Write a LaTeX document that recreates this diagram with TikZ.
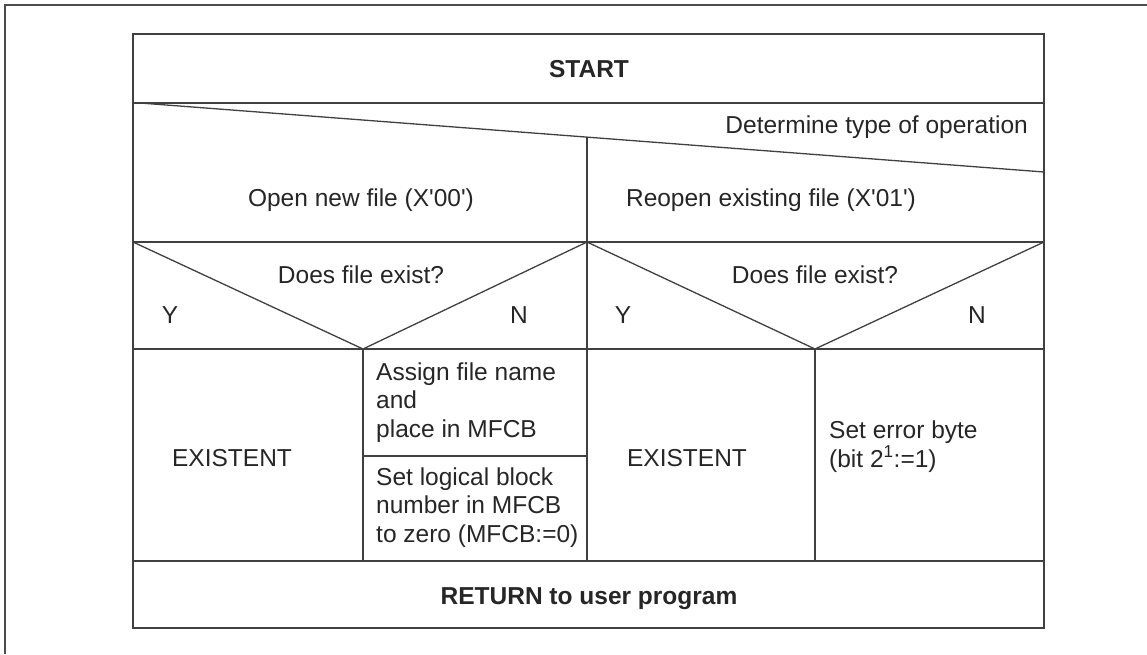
\documentclass[tikz,border=0pt]{standalone}
\usepackage{fontspec}
\setmainfont{Liberation Sans}
\begin{document}
\begin{tikzpicture}[x=1pt,y=-1pt,
  every node/.style={font=\fontsize{24.5}{28.5}\selectfont, inner sep=0pt, text=black!85},
  frame/.style={line width=1.6pt, draw=black!75},
  outerframe/.style={line width=2pt, draw=black!70},
  thin/.style={line width=1.3pt, draw=black!75},
  lbl/.style={anchor=base},
  lefttxt/.style={anchor=base west, align=left}]
\useasboundingbox (0,0) rectangle (1147,654);
% outer frame (cropped)
\draw[outerframe] (1147,5) -- (5,5) -- (5,654);
% main table
\draw[frame] (133,34) rectangle (1044,628);
\draw[frame] (133,103) -- (1044,103);
\coordinate (dstart) at (140,103);
\coordinate (dend) at (1044,172);
\draw[thin] (dstart) -- (dend);
\draw[frame] (587,137) -- (587,561);
\draw[frame] (133,242) -- (1044,242);
\draw[frame] (133,349) -- (1044,349);
\draw[thin] (133,242) -- (363,349) -- (587,242);
\draw[thin] (587,242) -- (815,349) -- (1044,242);
\draw[frame] (363,349) -- (363,561);
\draw[frame] (815,349) -- (815,561);
\draw[frame] (363,456) -- (587,456);
\draw[frame] (133,561) -- (1044,561);
% texts
\node[lbl] (start) at (589,77) {\bfseries START};
\node[anchor=base east] (det) at (1028,133) {Determine type of operation};
\node[lbl] (open) at (361,206) {Open new file (X\textquotesingle00\textquotesingle)};
\node[lbl] (reopen) at (771,206) {Reopen existing file (X\textquotesingle01\textquotesingle)};
\node[lbl] (q1) at (361,283) {Does file exist?};
\node[lbl] (q2) at (815,283) {Does file exist?};
\node[lbl] (y1) at (170,323) {Y};
\node[lbl] (n1) at (519,323) {N};
\node[lbl] (y2) at (623,323) {Y};
\node[lbl] (n2) at (977,323) {N};
\node[lbl] (ex1) at (232,466) {EXISTENT};
\node[lbl] (ex2) at (687,466) {EXISTENT};
\node[lefttxt] (assign) at (376,437) {Assign file name\\and\\place in MFCB};
\node[lefttxt] (setlog) at (376,542) {Set logical block\\number in MFCB\\to zero (MFCB:=0)};
\node[lefttxt] (err) at (829,467) {Set error byte\\(bit 2\textsuperscript{1}:=1)};
\node[lbl] (ret) at (589,604) {\bfseries RETURN to user program};
\end{tikzpicture}
\end{document}
